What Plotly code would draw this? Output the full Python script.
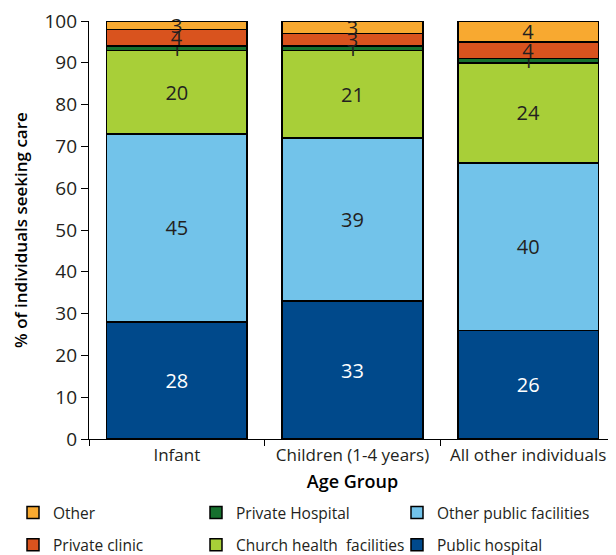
import plotly.graph_objects as go

# age groups on the x axis
GROUPS = ["Infant", "Children (1-4 years)", "All other individuals"]

# segment heights as drawn (bottom to top), and the numbers printed on them
PUBLIC_HOSPITAL = [28, 33, 26]
OTHER_PUBLIC = [45, 39, 40]
CHURCH = [20, 21, 24]
PRIVATE_HOSPITAL = [1, 1, 1]
PRIVATE_CLINIC = [4, 3, 4]
OTHER = [2, 3, 5]

PUBLIC_HOSPITAL_LBL = ["28", "33", "26"]
OTHER_PUBLIC_LBL = ["45", "39", "40"]
CHURCH_LBL = ["20", "21", "24"]
PRIVATE_HOSPITAL_LBL = ["1", "1", "1"]
PRIVATE_CLINIC_LBL = ["4", "3", "4"]
OTHER_LBL = ["3", "3", "4"]

FONT = "Open Sans"
INK = "#231f20"

# name, heights, labels, colour, text colour, legend, rank
SERIES = [
    ("Public hospital", PUBLIC_HOSPITAL, PUBLIC_HOSPITAL_LBL, "#00498b", "white", "legend3", 2),
    ("Other public facilities", OTHER_PUBLIC, OTHER_PUBLIC_LBL, "#72c3ea", INK, "legend3", 1),
    ("Church health  facilities", CHURCH, CHURCH_LBL, "#a8cf38", INK, "legend2", 2),
    ("Private Hospital", PRIVATE_HOSPITAL, PRIVATE_HOSPITAL_LBL, "#16702e", INK, "legend2", 1),
    ("Private clinic", PRIVATE_CLINIC, PRIVATE_CLINIC_LBL, "#d9531e", INK, "legend", 2),
    ("Other", OTHER, OTHER_LBL, "#f8a930", INK, "legend", 1),
]

fig = go.Figure()
for name, vals, lbls, col, tcol, leg, rank in SERIES:
    fig.add_trace(go.Bar(
        x=GROUPS, y=vals, name=name, text=lbls, textposition="inside",
        insidetextanchor="middle", textangle=0, cliponaxis=False,
        textfont=dict(family=FONT, size=20, color=tcol),
        marker=dict(color=col, line=dict(color="black", width=1.5)),
        legend=leg, legendgroup=name, legendrank=rank))

# page has an 8px body offset, so the figure is laid out in shifted coordinates
W, H = 616, 555
LEG_TOP = 488
leg_common = dict(orientation="v", xref="container", yref="container",
                  xanchor="left", yanchor="top", traceorder="grouped",
                  tracegroupgap=9, font=dict(family=FONT, size=15.5, color=INK),
                  bgcolor="rgba(0,0,0,0)", itemclick=False)

fig.update_layout(
    width=W, height=H, barmode="stack", bargap=0.2,
    plot_bgcolor="white", paper_bgcolor="white",
    margin=dict(l=81, r=8, t=13, b=124, autoexpand=False),
    font=dict(family=FONT, color=INK),
    uniformtext=dict(minsize=20, mode="show"),
    legend=dict(x=5 / W, y=1 - LEG_TOP / H, **leg_common),
    legend2=dict(x=188 / W, y=1 - LEG_TOP / H, **leg_common),
    legend3=dict(x=389 / W, y=1 - LEG_TOP / H, **leg_common),
    xaxis=dict(showline=True, linecolor="black", linewidth=1.2, ticks="outside",
               tickson="boundaries", ticklen=6, tickcolor="black", automargin=True,
               tickfont=dict(family=FONT, size=17, color=INK),
               title=dict(text="Age Group", standoff=10,
                          font=dict(family=FONT, size=18, color="black", weight=600))),
    yaxis=dict(range=[0, 100], dtick=10, showgrid=False, zeroline=False,
               showline=True, linecolor="black", linewidth=1.2, ticks="outside",
               ticklen=7, tickcolor="black", ticklabeloverflow="allow",
               tickfont=dict(family=FONT, size=19, color=INK)),
    annotations=[dict(text="% of individuals seeking care", textangle=-90,
                      xref="paper", yref="paper", x=-0.131, y=0.5,
                      xanchor="center", yanchor="middle", showarrow=False,
                      font=dict(family=FONT, size=17, color="black", weight=600))],
)

fig.write_html("out.html")
